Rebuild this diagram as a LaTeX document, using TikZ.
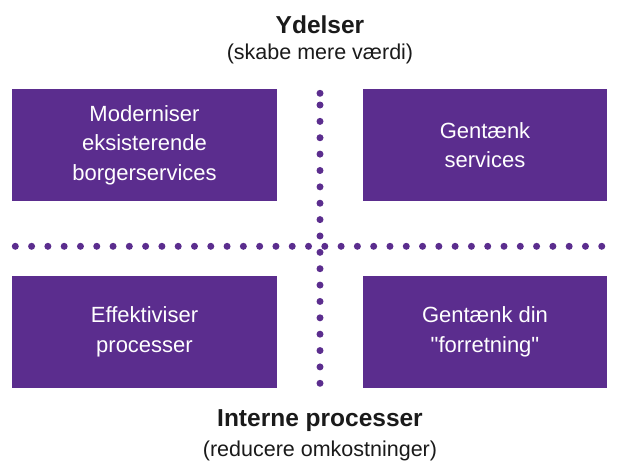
\documentclass[tikz,border=0pt]{standalone}
\usepackage{fontspec}
\setmainfont{Liberation Sans}
% plain family without TeX ligature mapping, so " stays a straight quote
\newfontfamily\boxfont{Liberation Sans}
\definecolor{brandpurple}{HTML}{5B2D8E}
\definecolor{captiontext}{HTML}{1A1A1A}
\tikzset{
  quadrant/.style={fill=brandpurple, draw=none, text=white, align=center,
    inner sep=0pt, font=\boxfont\fontsize{22}{29.5}\selectfont},
  axistitle/.style={text=captiontext, inner sep=0pt, font=\fontsize{24.5}{28}\selectfont\bfseries},
  axissub/.style={text=captiontext, inner sep=0pt, font=\fontsize{21.5}{25}\selectfont},
  dotline/.style={draw=brandpurple, line width=7pt, line cap=round, dash pattern=on 0pt off 16.29pt},
  dotline v/.style={dotline, dash pattern=on 0pt off 16.37pt},
}
\begin{document}
\begin{tikzpicture}[x=1pt, y=-1pt]
  \useasboundingbox (0,0) rectangle (620,461);

  % quadrant boxes
  \node[quadrant, minimum width=265pt, minimum height=112pt] (modern) at (144.5,145)
    {Moderniser\\eksisterende\\borgerservices};
  \node[quadrant, minimum width=244pt, minimum height=112pt] (rethink) at (485,145)
    {Gentænk\\services};
  \node[quadrant, minimum width=265pt, minimum height=112pt] (effect) at (144.5,332)
    {Effektiviser\\processer};
  \node[quadrant, minimum width=244pt, minimum height=112pt] (business) at (485,332)
    {Gentænk din\\"forretning"};

  % axis labels
  \node[axistitle] (ytitle) at (320,25) {Ydelser};
  \node[axissub] (ysub) at (320,54) {(skabe mere værdi)};
  \node[axistitle] (ptitle) at (320,421) {Interne processer};
  \node[axissub] (psub) at (320,451) {(reducere omkostninger)};

  % dotted axes
  \coordinate (hstart) at (15.3,246.3);
  \coordinate (hend) at (601.8,246.3);
  \coordinate (vtop) at (320,93.3);
  \coordinate (vstart) at (320,105);
  \coordinate (vend) at (320,383.3);
  \draw[dotline] (hstart) -- (hend);
  \draw[dotline v] (vstart) -- (vend);
  \fill[brandpurple] (vtop) circle (3.5pt);
\end{tikzpicture}
\end{document}
